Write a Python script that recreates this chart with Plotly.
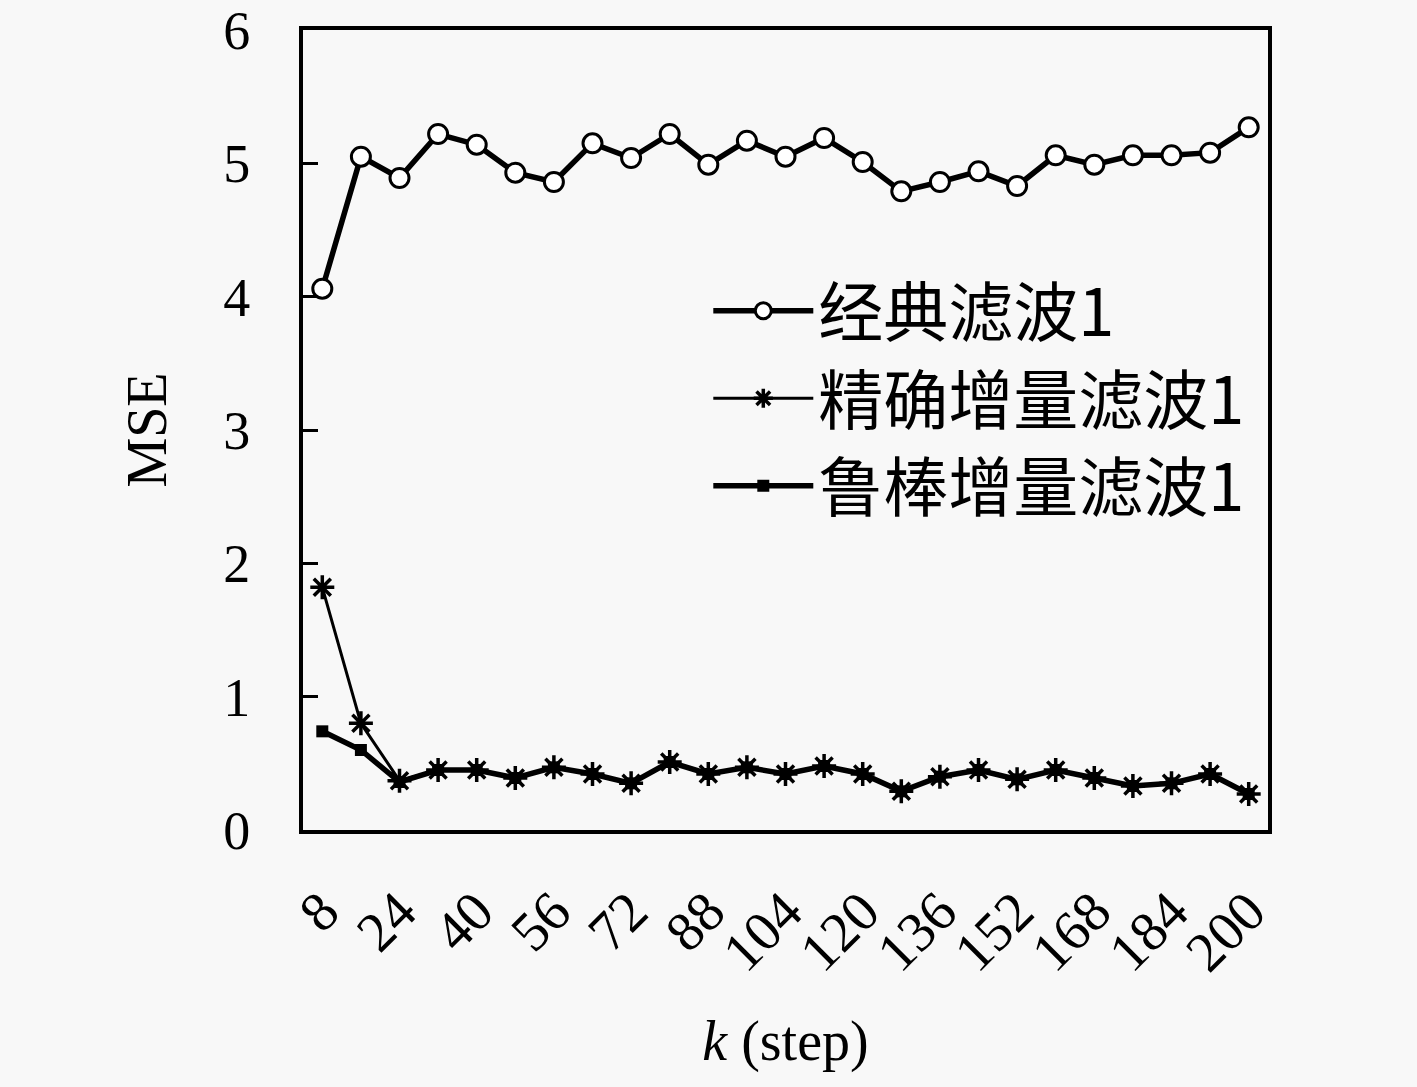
import plotly.graph_objects as go

# pas de temps k
k_steps = [8, 16, 24, 32, 40, 48, 56, 64, 72, 80, 88, 96, 104,
           112, 120, 128, 136, 144, 152, 160, 168, 176, 184, 192, 200]

# MSE
mse_classique = [4.06, 5.05, 4.89, 5.22, 5.14, 4.93, 4.86, 5.15, 5.04, 5.22, 4.99, 5.17, 5.05,
                 5.19, 5.01, 4.79, 4.86, 4.94, 4.83, 5.06, 4.99, 5.06, 5.06, 5.08, 5.27]
mse_precis = [1.82, 0.80, 0.37, 0.45, 0.45, 0.39, 0.47, 0.42, 0.35, 0.51, 0.42, 0.47, 0.42,
              0.48, 0.42, 0.29, 0.40, 0.45, 0.38, 0.45, 0.39, 0.33, 0.35, 0.42, 0.27]
mse_robuste = [0.74, 0.60, 0.36, 0.45, 0.45, 0.39, 0.47, 0.42, 0.35, 0.51, 0.42, 0.47, 0.42,
               0.48, 0.42, 0.29, 0.40, 0.45, 0.38, 0.45, 0.39, 0.33, 0.35, 0.42, 0.27]

noms = ["经典滤波1", "精确增量滤波1", "鲁棒增量滤波1"]
x_ticks = list(range(8, 201, 16))
y_ticks = [0, 1, 2, 3, 4, 5, 6]

police = "Liberation Serif, DejaVu Serif, Noto Sans CJK SC, serif"
fond = "#f8f8f8"

fig = go.Figure()

fig.add_trace(go.Scatter(
    x=k_steps, y=mse_classique, name=noms[0], mode="lines+markers",
    line=dict(color="black", width=5.5),
    marker=dict(symbol="circle", size=19, color="white",
                line=dict(color="black", width=3)),
    legendrank=1,
))
fig.add_trace(go.Scatter(
    x=k_steps, y=mse_robuste, name=noms[2], mode="lines+markers",
    line=dict(color="black", width=5.5),
    marker=dict(symbol="square", size=12, color="black"),
    legendrank=3,
))
fig.add_trace(go.Scatter(
    x=k_steps, y=mse_precis, name=noms[1], mode="lines+markers",
    line=dict(color="black", width=3),
    marker=dict(symbol="asterisk-open", size=20,
                line=dict(color="black", width=3.5)),
    legendrank=2,
))

fig.update_layout(
    width=1417, height=1087,
    margin=dict(l=303, r=149, t=30, b=257),
    paper_bgcolor=fond, plot_bgcolor=fond,
    font=dict(family=police, size=56, color="black"),
    legend=dict(
        x=0.42, y=0.71, xanchor="left", yanchor="top",
        bgcolor="rgba(0,0,0,0)", borderwidth=0,
        font=dict(size=65, family="Noto Sans CJK SC, Liberation Serif"),
        itemwidth=100,
    ),
    showlegend=True,
)

fig.update_xaxes(
    range=[4, 204], tickvals=x_ticks, ticktext=[str(v) for v in x_ticks],
    tickangle=-45, ticks="", showgrid=False, zeroline=False,
    showline=True, linecolor="black", linewidth=4, mirror=True,
    ticklabelstandoff=22, ticklabeloverflow="allow", automargin=False,
    title=dict(text="<i>k</i> (step)", font=dict(size=56), standoff=40),
    tickfont=dict(size=56),
)
fig.update_yaxes(
    range=[0, 6], tickvals=y_ticks, ticks="inside", ticklen=15, tickwidth=3,
    tickcolor="black", showgrid=False, zeroline=False,
    showline=True, linecolor="black", linewidth=4, mirror=True,
    ticklabelstandoff=38, ticklabeloverflow="allow", automargin=False,
    title=dict(text="MSE", font=dict(size=56), standoff=40),
    tickfont=dict(size=54),
)

# page sans marge blanche autour de la figure, sans barre d'outils
fig.write_html("out.html", config={"displayModeBar": False},
               post_script="document.body.style.margin='0';")
